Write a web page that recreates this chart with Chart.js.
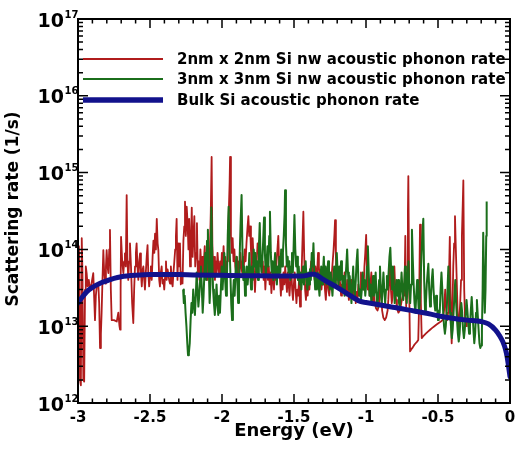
<!DOCTYPE html>
<html>
<head>
<meta charset="utf-8">
<title>Acoustic phonon scattering rate</title>
<script src="https://cdn.jsdelivr.net/npm/chart.js@4.4.1/dist/chart.umd.min.js"></script>
<style>
  html, body { margin: 0; padding: 0; background: #fff; }
  #wrap { width: 515px; height: 453px; }
</style>
</head>
<body>
<div id="wrap"><canvas id="rateChart" width="515" height="453"></canvas></div>
<script>
// axis labels and tick values
const xTitle = 'Energy (eV)';
const yTitle = 'Scattering rate (1/s)';
const energyTicks = [-3, -2.5, -2, -1.5, -1, -0.5, 0];
const rateDecades = [12, 13, 14, 15, 16, 17];

const seriesNames = [
  '2nm x 2nm Si nw acoustic phonon rate',
  '3nm x 3nm Si nw acoustic phonon rate',
  'Bulk Si acoustic phonon rate'
];
const seriesColors = ['#b01c1c', '#1b6e1b', '#12128c'];
const seriesWidths = [1.8, 2, 5];

// 2nm x 2nm nanowire (energy in eV, rate in 1/s)
const nw2Energy = [
  -3.000, -2.994, -2.990, -2.986, -2.980, -2.977, -2.974, -2.969, -2.963, -2.957,
  -2.951, -2.946, -2.940, -2.933, -2.925, -2.917, -2.906, -2.894, -2.882, -2.876,
  -2.870, -2.859, -2.853, -2.847, -2.841, -2.836, -2.830, -2.824, -2.818, -2.812,
  -2.806, -2.801, -2.795, -2.789, -2.783, -2.778, -2.772, -2.766, -2.750, -2.731,
  -2.720, -2.712, -2.708, -2.704, -2.701, -2.693, -2.685, -2.679, -2.674, -2.668,
  -2.662, -2.657, -2.651, -2.645, -2.639, -2.632, -2.624, -2.616, -2.610, -2.604,
  -2.598, -2.593, -2.587, -2.581, -2.575, -2.569, -2.563, -2.557, -2.551, -2.546,
  -2.540, -2.535, -2.529, -2.523, -2.517, -2.512, -2.506, -2.500, -2.494, -2.488,
  -2.482, -2.476, -2.470, -2.465, -2.459, -2.453, -2.447, -2.442, -2.436, -2.431,
  -2.425, -2.419, -2.413, -2.407, -2.401, -2.395, -2.389, -2.384, -2.378, -2.373,
  -2.367, -2.361, -2.355, -2.349, -2.343, -2.337, -2.331, -2.325, -2.320, -2.315,
  -2.309, -2.303, -2.298, -2.292, -2.286, -2.280, -2.274, -2.268, -2.262, -2.257,
  -2.251, -2.245, -2.239, -2.233, -2.228, -2.222, -2.216, -2.210, -2.204, -2.198,
  -2.192, -2.186, -2.180, -2.174, -2.168, -2.162, -2.156, -2.150, -2.144, -2.138,
  -2.132, -2.126, -2.120, -2.114, -2.108, -2.102, -2.096, -2.090, -2.084, -2.078,
  -2.072, -2.067, -2.061, -2.055, -2.049, -2.043, -2.037, -2.031, -2.025, -2.019,
  -2.013, -2.007, -2.001, -1.995, -1.989, -1.983, -1.977, -1.971, -1.965, -1.959,
  -1.953, -1.947, -1.944, -1.938, -1.932, -1.926, -1.920, -1.914, -1.908, -1.902,
  -1.896, -1.890, -1.884, -1.878, -1.872, -1.866, -1.860, -1.854, -1.848, -1.842,
  -1.836, -1.830, -1.824, -1.817, -1.811, -1.805, -1.799, -1.793, -1.787, -1.781,
  -1.775, -1.771, -1.765, -1.759, -1.753, -1.747, -1.741, -1.735, -1.729, -1.723,
  -1.717, -1.711, -1.705, -1.699, -1.693, -1.687, -1.681, -1.675, -1.669, -1.663,
  -1.657, -1.651, -1.645, -1.639, -1.633, -1.627, -1.621, -1.615, -1.609, -1.603,
  -1.597, -1.591, -1.585, -1.579, -1.573, -1.567, -1.561, -1.555, -1.549, -1.543,
  -1.537, -1.531, -1.525, -1.519, -1.513, -1.507, -1.501, -1.495, -1.489, -1.483,
  -1.477, -1.471, -1.465, -1.458, -1.452, -1.446, -1.440, -1.435, -1.429, -1.423,
  -1.417, -1.411, -1.405, -1.399, -1.393, -1.387, -1.381, -1.375, -1.369, -1.363,
  -1.357, -1.351, -1.345, -1.339, -1.333, -1.327, -1.321, -1.315, -1.309, -1.303,
  -1.297, -1.291, -1.285, -1.279, -1.273, -1.267, -1.261, -1.255, -1.249, -1.243,
  -1.237, -1.231, -1.225, -1.219, -1.215, -1.209, -1.203, -1.197, -1.191, -1.185,
  -1.179, -1.173, -1.167, -1.161, -1.155, -1.149, -1.143, -1.137, -1.131, -1.125,
  -1.119, -1.113, -1.107, -1.101, -1.095, -1.089, -1.083, -1.077, -1.071, -1.065,
  -1.059, -1.053, -1.047, -1.041, -1.035, -1.029, -1.023, -1.017, -1.011, -1.005,
  -0.999, -0.993, -0.987, -0.981, -0.975, -0.969, -0.963, -0.957, -0.951, -0.945,
  -0.939, -0.930, -0.920, -0.912, -0.906, -0.900, -0.894, -0.888, -0.880, -0.870,
  -0.860, -0.850, -0.845, -0.839, -0.833, -0.827, -0.821, -0.815, -0.809, -0.803,
  -0.797, -0.791, -0.785, -0.775, -0.765, -0.755, -0.745, -0.739, -0.733, -0.727,
  -0.721, -0.715, -0.709, -0.706, -0.700, -0.694, -0.685, -0.675, -0.665, -0.655,
  -0.645, -0.637, -0.631, -0.625, -0.619, -0.613, -0.600, -0.585, -0.570, -0.555,
  -0.540, -0.525, -0.510, -0.495, -0.480, -0.468, -0.458, -0.450, -0.443, -0.436,
  -0.430, -0.424, -0.418, -0.413, -0.408, -0.405, -0.400, -0.394, -0.388, -0.382,
  -0.376, -0.370, -0.364, -0.358, -0.352, -0.346, -0.340, -0.334, -0.328, -0.324,
  -0.318, -0.312, -0.305, -0.300
];
const nw2Rate = [
  4.0e13, 1.1e14, 6.0e13, 2.0e12, 1.7e12, 2.0e13, 1.4e14, 5.0e13, 2.0e12, 1.9e12,
  3.0e13, 6.0e13, 4.9e13, 3.3e13, 4.0e13, 3.0e13, 3.6e13, 4.9e13, 1.2e13, 2.5e13,
  3.3e13, 3.6e13, 2.0e13, 5.2e12, 8.0e12, 1.5e13, 4.0e13, 9.8e13, 5.0e13, 3.6e13,
  6.0e13, 9.8e13, 6.0e13, 4.9e13, 1.0e14, 1.8e14, 3.0e13, 1.2e13, 1.2e13, 1.15e13,
  1.5e13, 1.0e13, 9.0e12, 3.0e13, 1.46e14, 7.0e13, 4.9e13, 7.0e13, 8.9e13, 6.0e13,
  5.1e14, 8.0e13, 4.0e13, 7.0e13, 1.2e14, 6.0e13, 2.0e13, 1.1e13, 3.0e13, 6.0e13,
  9.0e13, 1.2e14, 6.0e13, 4.0e13, 7.0e13, 8.9e13, 5.0e13, 3.3e13, 5.5e13, 6.0e13,
  4.0e13, 3.0e13, 5.0e13, 8.0e13, 1.14e14, 5.0e13, 3.3e13, 4.5e13, 6.0e13, 4.0e13,
  8.0e13, 1.3e14, 9.0e13, 1.6e14, 1.0e14, 2.5e14, 1.2e14, 9.8e13, 4.0e13, 3.3e13,
  5.0e13, 6.0e13, 3.6e13, 4.0e13, 3.0e13, 4.5e13, 7.0e13, 4.0e13, 5.5e13, 4.9e13,
  4.0e13, 3.6e13, 6.0e13, 4.0e13, 3.3e13, 5.0e13, 7.0e13, 1.0e14, 1.5e14, 2.5e14,
  4.0e13, 1.2e14, 6.0e13, 1.2e14, 3.5e13, 5.0e13, 3.6e13, 1.3e14, 2.0e14, 4.2e14,
  1.5e14, 3.6e14, 2.2e14, 1.0e14, 2.5e14, 6.0e13, 1.2e14, 3.5e14, 8.0e13, 1.5e14,
  2.7e14, 6.0e13, 9.0e13, 2.2e14, 5.0e13, 7.0e13, 4.0e13, 1.0e14, 6.0e13, 8.0e13,
  4.5e13, 7.0e13, 1.1e14, 5.0e13, 6.5e13, 4.0e13, 9.0e13, 6.0e13, 1.0e14, 3.0e14,
  1.6e15, 1.2e14, 5.0e13, 8.0e13, 4.0e13, 7.0e13, 5.0e13, 9.0e13, 6.0e13, 4.5e13,
  7.0e13, 5.0e13, 9.0e13, 6.0e13, 1.1e14, 5.5e13, 8.0e13, 4.0e13, 7.0e13, 1.2e14,
  3.0e14, 7.5e14, 1.6e15, 1.5e14, 9.0e13, 1.4e14, 7.0e13, 1.0e14, 6.0e13, 5.0e13,
  8.0e13, 4.5e13, 7.0e13, 5.0e13, 9.0e13, 6.0e13, 5.0e13, 8.0e13, 6.0e13, 1.0e14,
  7.0e13, 1.2e14, 1.8e14, 2.7e14, 1.5e14, 2.0e14, 1.0e14, 6.0e13, 1.4e14, 8.0e13,
  4.0e13, 2.8e13, 5.0e13, 7.0e13, 1.2e14, 9.0e13, 1.3e14, 6.0e13, 8.0e13, 5.0e13,
  7.0e13, 4.0e13, 6.0e13, 3.0e13, 5.0e13, 7.0e13, 4.0e13, 6.0e13, 3.5e13, 5.0e13,
  2.7e13, 4.0e13, 6.5e13, 3.0e13, 5.0e13, 4.0e13, 7.0e13, 1.0e14, 1.5e14, 6.0e13,
  4.0e13, 2.5e13, 4.5e13, 3.0e13, 5.0e13, 3.5e13, 6.0e13, 4.0e13, 2.8e13, 5.0e13,
  3.5e13, 2.5e13, 4.0e13, 6.0e13, 3.0e13, 2.2e13, 3.5e13, 5.0e13, 3.0e13, 2.0e13,
  3.0e13, 2.5e13, 4.0e13, 1.8e13, 3.0e13, 6.0e13, 1.5e14, 3.1e14, 8.0e13, 3.0e13,
  2.2e13, 3.5e13, 2.5e13, 4.0e13, 3.0e13, 5.0e13, 7.0e13, 5.0e13, 9.0e13, 5.5e13,
  4.0e13, 6.0e13, 3.5e13, 5.0e13, 9.0e13, 6.0e13, 4.0e13, 5.0e13, 3.0e13, 4.5e13,
  3.5e13, 5.0e13, 3.0e13, 2.2e13, 3.5e13, 4.5e13, 3.0e13, 2.5e13, 3.5e13, 4.0e13,
  5.0e13, 7.0e13, 1.0e14, 1.6e14, 2.4e14, 8.0e13, 4.0e13, 6.0e13, 3.0e13, 4.5e13,
  3.5e13, 2.5e13, 3.5e13, 2.8e13, 3.5e13, 5.0e13, 3.0e13, 2.5e13, 4.0e13, 3.0e13,
  2.2e13, 2.5e13, 3.0e13, 4.0e13, 2.5e13, 3.5e13, 2.2e13, 3.0e13, 2.0e13, 2.8e13,
  2.3e13, 3.5e13, 2.5e13, 3.0e13, 5.0e13, 3.0e13, 4.5e13, 3.0e13, 6.0e13, 9.0e13,
  1.55e14, 5.0e13, 3.0e13, 4.0e13, 2.5e13, 3.5e13, 5.0e13, 3.0e13, 2.0e13, 2.5e13,
  2.0e13, 1.7e13, 1.6e13, 1.8e13, 2.5e13, 3.5e13, 2.5e13, 1.6e13, 1.3e13, 1.2e13,
  1.3e13, 1.6e13, 2.2e13, 4.0e13, 6.0e13, 3.0e13, 2.0e13, 2.5e13, 4.0e13, 6.0e13,
  3.0e13, 2.2e13, 1.7e13, 1.5e13, 1.6e13, 2.0e13, 2.5e13, 3.5e13, 2.5e13, 1.5e14,
  1.8e13, 5.0e13, 3.0e14, 9.0e14, 3.0e13, 4.7e12, 5.0e12, 5.3e12, 5.7e12, 6.0e12,
  6.3e12, 6.6e12, 2.0e13, 2.1e14, 2.0e13, 7.0e12, 7.5e12, 8.0e12, 8.5e12, 9.0e12,
  9.5e12, 1.0e13, 1.05e13, 1.1e13, 1.15e13, 1.2e13, 1.6e13, 3.0e13, 1.6e13, 1.2e13,
  1.5e13, 4.0e13, 1.46e14, 3.0e13, 1.0e13, 6.0e12, 1.5e13, 6.0e13, 1.2e14, 2.7e14,
  1.0e14, 4.0e13, 1.6e13, 9.0e12, 1.2e13, 2.0e13, 4.0e13, 1.5e14, 4.0e14, 7.9e14,
  3.0e13, 1.2e13, 1.0e13, 1.3e13
];

// 3nm x 3nm nanowire
const nw3Energy = [
  -2.270, -2.265, -2.259, -2.253, -2.247, -2.241, -2.236, -2.230, -2.224, -2.218,
  -2.212, -2.206, -2.200, -2.194, -2.188, -2.182, -2.176, -2.170, -2.164, -2.158,
  -2.152, -2.146, -2.140, -2.134, -2.128, -2.122, -2.116, -2.110, -2.104, -2.098,
  -2.092, -2.086, -2.080, -2.074, -2.068, -2.062, -2.056, -2.050, -2.044, -2.038,
  -2.032, -2.026, -2.020, -2.014, -2.008, -2.002, -1.996, -1.990, -1.984, -1.978,
  -1.972, -1.966, -1.960, -1.954, -1.948, -1.942, -1.936, -1.930, -1.924, -1.918,
  -1.912, -1.906, -1.900, -1.894, -1.888, -1.882, -1.876, -1.870, -1.864, -1.858,
  -1.852, -1.846, -1.840, -1.834, -1.828, -1.822, -1.816, -1.810, -1.804, -1.798,
  -1.792, -1.786, -1.780, -1.774, -1.768, -1.762, -1.756, -1.750, -1.744, -1.738,
  -1.732, -1.726, -1.720, -1.714, -1.708, -1.702, -1.696, -1.690, -1.684, -1.678,
  -1.672, -1.667, -1.661, -1.655, -1.649, -1.643, -1.637, -1.631, -1.625, -1.619,
  -1.613, -1.607, -1.601, -1.595, -1.589, -1.583, -1.577, -1.571, -1.565, -1.562,
  -1.556, -1.550, -1.544, -1.538, -1.532, -1.526, -1.520, -1.514, -1.508, -1.503,
  -1.497, -1.491, -1.485, -1.479, -1.473, -1.467, -1.461, -1.455, -1.449, -1.443,
  -1.437, -1.431, -1.425, -1.419, -1.413, -1.407, -1.401, -1.395, -1.389, -1.383,
  -1.377, -1.371, -1.365, -1.359, -1.353, -1.347, -1.341, -1.335, -1.329, -1.323,
  -1.317, -1.311, -1.305, -1.299, -1.293, -1.287, -1.281, -1.275, -1.269, -1.263,
  -1.257, -1.251, -1.245, -1.239, -1.233, -1.227, -1.221, -1.215, -1.209, -1.203,
  -1.197, -1.191, -1.185, -1.179, -1.173, -1.167, -1.161, -1.155, -1.149, -1.143,
  -1.137, -1.131, -1.125, -1.119, -1.113, -1.107, -1.101, -1.095, -1.089, -1.083,
  -1.077, -1.071, -1.065, -1.059, -1.053, -1.047, -1.041, -1.035, -1.029, -1.023,
  -1.017, -1.011, -1.005, -0.999, -0.993, -0.987, -0.981, -0.975, -0.969, -0.963,
  -0.957, -0.951, -0.945, -0.939, -0.933, -0.927, -0.921, -0.915, -0.909, -0.903,
  -0.897, -0.891, -0.885, -0.879, -0.873, -0.867, -0.861, -0.855, -0.849, -0.843,
  -0.837, -0.831, -0.825, -0.819, -0.813, -0.807, -0.801, -0.795, -0.789, -0.783,
  -0.777, -0.771, -0.765, -0.759, -0.753, -0.747, -0.741, -0.735, -0.729, -0.723,
  -0.717, -0.711, -0.705, -0.699, -0.693, -0.687, -0.681, -0.675, -0.669, -0.663,
  -0.657, -0.651, -0.645, -0.639, -0.633, -0.627, -0.621, -0.615, -0.609, -0.602,
  -0.596, -0.590, -0.584, -0.578, -0.572, -0.567, -0.561, -0.555, -0.549, -0.543,
  -0.537, -0.531, -0.525, -0.519, -0.513, -0.507, -0.500, -0.494, -0.488, -0.482,
  -0.476, -0.470, -0.464, -0.458, -0.452, -0.446, -0.440, -0.434, -0.428, -0.422,
  -0.416, -0.410, -0.404, -0.398, -0.392, -0.386, -0.380, -0.374, -0.368, -0.362,
  -0.356, -0.350, -0.344, -0.338, -0.332, -0.326, -0.320, -0.314, -0.308, -0.302,
  -0.296, -0.290, -0.284, -0.278, -0.272, -0.266, -0.260, -0.254, -0.248, -0.242,
  -0.236, -0.230, -0.224, -0.218, -0.212, -0.206, -0.200, -0.195, -0.190, -0.186,
  -0.180, -0.175, -0.170, -0.165, -0.162
];
const nw3Rate = [
  3.0e13, 2.0e13, 2.5e13, 1.5e13, 1.0e13, 6.0e12, 4.2e12, 4.5e12, 6.0e12, 1.2e13,
  2.0e13, 1.5e13, 3.0e13, 2.0e13, 1.4e13, 2.5e13, 5.0e13, 3.0e13, 1.8e13, 2.5e13,
  4.0e13, 6.0e13, 3.0e13, 1.5e13, 2.5e13, 5.0e13, 9.0e13, 4.0e13, 1.3e14, 1.8e14,
  6.0e13, 2.0e13, 3.5e13, 3.5e14, 8.0e13, 3.0e13, 2.0e13, 1.4e13, 2.0e13, 3.5e13,
  2.0e13, 1.4e13, 2.5e13, 1.5e13, 3.0e13, 6.0e13, 3.0e13, 5.0e13, 9.0e13, 4.0e13,
  2.5e13, 4.0e13, 1.5e14, 3.6e14, 1.2e14, 5.0e13, 2.0e13, 1.2e13, 2.5e13, 4.0e13,
  2.5e13, 5.0e13, 8.0e13, 4.0e13, 2.0e13, 3.5e13, 1.0e14, 2.5e14, 5.1e14, 1.0e14,
  4.0e13, 6.0e13, 2.5e13, 4.0e13, 6.0e13, 3.5e13, 5.0e13, 9.0e13, 5.0e13, 3.0e13,
  6.0e13, 4.0e13, 1.0e14, 6.0e13, 9.0e13, 5.0e13, 7.0e13, 4.0e13, 1.0e14, 2.2e14,
  8.0e13, 5.0e13, 7.0e13, 1.3e14, 2.6e14, 9.0e13, 4.5e13, 7.0e13, 1.1e14, 6.0e13,
  1.5e14, 3.1e14, 9.0e13, 5.0e13, 7.0e13, 4.0e13, 6.0e13, 9.0e13, 5.0e13, 3.5e13,
  6.0e13, 4.5e13, 8.0e13, 5.0e13, 1.0e14, 6.0e13, 9.0e13, 1.5e14, 3.0e14, 5.9e14,
  1.2e14, 6.0e13, 8.0e13, 5.0e13, 7.0e13, 4.0e13, 6.0e13, 9.0e13, 5.0e13, 1.0e14,
  2.8e14, 1.0e14, 6.0e13, 8.0e13, 4.0e13, 6.0e13, 3.5e13, 5.0e13, 3.0e13, 4.5e13,
  6.0e13, 3.5e13, 5.0e13, 7.0e13, 4.0e13, 3.0e13, 5.0e13, 3.5e13, 5.5e13, 4.0e13,
  9.0e13, 6.0e13, 1.2e14, 5.0e13, 3.0e13, 4.5e13, 3.0e13, 5.0e13, 3.5e13, 2.5e13,
  4.0e13, 6.0e13, 3.5e13, 5.0e13, 8.0e13, 4.0e13, 6.0e13, 3.5e13, 5.0e13, 7.0e13,
  4.0e13, 3.0e13, 5.0e13, 3.5e13, 2.5e13, 4.0e13, 6.0e13, 3.5e13, 5.0e13, 9.0e13,
  5.0e13, 3.5e13, 6.0e13, 4.0e13, 7.0e13, 4.5e13, 3.0e13, 4.5e13, 2.5e13, 4.0e13,
  6.0e13, 1.0e14, 5.0e13, 3.0e13, 4.5e13, 3.0e13, 2.0e13, 3.5e13, 6.0e13, 3.0e13,
  2.5e13, 4.0e13, 7.0e13, 1.0e14, 4.0e13, 2.5e13, 3.0e13, 2.2e13, 3.0e13, 5.0e13,
  3.0e13, 4.0e13, 2.5e13, 3.5e13, 6.0e13, 1.1e14, 5.0e13, 2.5e13, 3.5e13, 2.0e13,
  3.0e13, 4.5e13, 2.5e13, 3.0e13, 5.0e13, 2.5e13, 1.8e13, 2.5e13, 4.0e13, 6.0e13,
  3.0e13, 2.0e13, 3.0e13, 5.0e13, 3.0e13, 2.0e13, 3.0e13, 4.5e13, 3.0e13, 5.0e13,
  8.0e13, 1.05e14, 5.0e13, 3.0e13, 6.0e13, 3.5e13, 2.0e13, 2.8e13, 4.0e13, 2.5e13,
  4.0e13, 2.0e13, 1.8e13, 3.0e13, 5.0e13, 3.0e13, 2.2e13, 3.5e13, 6.0e13, 3.0e13,
  2.0e13, 4.0e13, 7.0e13, 3.0e13, 2.0e13, 3.5e13, 1.8e14, 7.4e13, 3.5e13, 2.0e13,
  1.5e13, 2.5e13, 4.0e13, 2.5e13, 1.5e13, 2.0e13, 4.0e13, 8.0e13, 1.5e14, 2.5e14,
  4.0e13, 1.6e13, 2.0e13, 3.5e13, 5.0e13, 6.5e13, 3.0e13, 1.8e13, 2.5e13, 4.0e13,
  5.5e13, 3.0e13, 2.0e13, 1.6e13, 2.5e13, 1.8e13, 1.2e13, 1.6e13, 1.5e13, 3.0e13,
  5.0e13, 3.0e13, 1.5e13, 1.0e13, 8.0e12, 1.0e13, 1.5e13, 3.0e13, 6.0e13, 3.0e13,
  1.5e13, 1.0e13, 7.0e12, 9.0e12, 1.5e13, 2.5e13, 4.0e13, 2.0e13, 1.2e13, 8.0e12,
  6.3e12, 8.0e12, 1.3e13, 2.0e13, 1.5e13, 9.0e12, 7.0e12, 9.0e12, 1.4e13, 2.2e13,
  1.6e13, 1.1e13, 8.0e12, 1.0e13, 1.6e13, 2.4e13, 1.5e13, 9.0e12, 6.0e12, 8.0e12,
  1.5e13, 2.2e13, 1.4e13, 9.0e12, 6.0e12, 5.2e12, 5.6e12, 9.0e12, 3.0e13, 1.65e14,
  4.0e13, 1.5e13, 3.0e13, 1.5e14, 4.2e14
];

// bulk Si
const bulkEnergy = [
  -3.00, -2.97, -2.94, -2.90, -2.85, -2.80, -2.75, -2.70, -2.60, -2.50,
  -2.40, -2.30, -2.20, -2.00, -1.80, -1.60, -1.45, -1.41, -1.38, -1.36,
  -1.34, -1.30, -1.20, -1.10, -1.04, -1.00, -0.90, -0.80, -0.70, -0.60,
  -0.50, -0.40, -0.30, -0.20, -0.15, -0.10, -0.07, -0.05, -0.03, -0.02,
  -0.01, 0.00
];
const bulkRate = [
  2.0e13, 2.4e13, 2.8e13, 3.2e13, 3.6e13, 3.9e13, 4.2e13, 4.4e13, 4.6e13, 4.7e13,
  4.7e13, 4.7e13, 4.65e13, 4.6e13, 4.55e13, 4.5e13, 4.5e13, 4.6e13, 4.75e13, 4.75e13,
  4.6e13, 4.1e13, 3.2e13, 2.45e13, 2.1e13, 2.04e13, 1.89e13, 1.75e13, 1.62e13, 1.5e13,
  1.37e13, 1.27e13, 1.2e13, 1.15e13, 1.07e13, 8.9e12, 7.4e12, 6.3e12, 4.9e12, 4.0e12,
  3.0e12, 2.2e12
];

// turn two parallel arrays into {x, y} points
function toPoints(energies, rates) {
  let pts = [];
  let n = Math.min(energies.length, rates.length);
  for (let i = 0; i < n; i++) {
    pts.push({ x: energies[i], y: rates[i] });
  }
  return pts;
}

const FONT = '"DejaVu Sans", sans-serif';

// frame, inward ticks, tick labels, axis titles and the legend
const axisDecor = {
  id: 'axisDecor',
  afterDatasetsDraw(chart) {
    const ctx = chart.ctx;
    const a = chart.chartArea;
    const xs = chart.scales.x;
    const ys = chart.scales.y;
    ctx.save();
    ctx.strokeStyle = '#000';
    ctx.fillStyle = '#000';

    // x ticks, top and bottom
    ctx.lineWidth = 1.5;
    ctx.beginPath();
    for (let i = 0; i <= 30; i++) {
      let px = xs.getPixelForValue(-3 + i * 0.1);
      let len = (i % 5 === 0) ? 9 : 4.5;
      ctx.moveTo(px, a.bottom);
      ctx.lineTo(px, a.bottom - len);
      ctx.moveTo(px, a.top);
      ctx.lineTo(px, a.top + len);
    }
    // y ticks, left and right (log minors 2..9)
    for (let d = rateDecades[0]; d < rateDecades[rateDecades.length - 1]; d++) {
      for (let m = 1; m <= 9; m++) {
        let py = ys.getPixelForValue(m * Math.pow(10, d));
        let len = (m === 1) ? 10 : 5;
        ctx.moveTo(a.left, py);
        ctx.lineTo(a.left + len, py);
        ctx.moveTo(a.right, py);
        ctx.lineTo(a.right - len, py);
      }
    }
    ctx.stroke();

    // frame
    ctx.lineWidth = 2;
    ctx.strokeRect(a.left, a.top, a.right - a.left, a.bottom - a.top);

    // x tick labels
    ctx.font = 'bold 15px ' + FONT;
    ctx.textAlign = 'center';
    ctx.textBaseline = 'alphabetic';
    energyTicks.forEach(function (e) {
      ctx.fillText(String(e), xs.getPixelForValue(e), a.bottom + 19);
    });

    // y tick labels as 10 with a raised exponent
    rateDecades.forEach(function (d) {
      let py = ys.getPixelForValue(Math.pow(10, d));
      ctx.font = 'bold 19px ' + FONT;
      ctx.textAlign = 'right';
      ctx.fillText('10', 64, py + 7.5);
      ctx.font = 'bold 10px ' + FONT;
      ctx.textAlign = 'left';
      ctx.fillText(String(d), 64.5, py - 1.5);
    });

    // axis titles
    ctx.font = 'bold 18px ' + FONT;
    ctx.textAlign = 'center';
    ctx.fillText(xTitle, (a.left + a.right) / 2, a.bottom + 33);
    ctx.save();
    ctx.font = 'bold 17px ' + FONT;
    ctx.translate(14, 209);
    ctx.rotate(-Math.PI / 2);
    ctx.textBaseline = 'middle';
    ctx.fillText(yTitle, 0, 0);
    ctx.restore();

    // legend inside the plot
    let legendY = [59, 79, 100];
    ctx.font = 'bold 15px ' + FONT;
    ctx.textAlign = 'left';
    ctx.textBaseline = 'middle';
    for (let i = 0; i < seriesNames.length; i++) {
      ctx.strokeStyle = seriesColors[i];
      ctx.lineWidth = (i === 2) ? 5.5 : 2;
      ctx.beginPath();
      ctx.moveTo(83, legendY[i]);
      ctx.lineTo(163, legendY[i]);
      ctx.stroke();
      ctx.fillStyle = '#000';
      ctx.fillText(seriesNames[i], 177, legendY[i] + 1);
    }
    ctx.restore();
  }
};

const ctx = document.getElementById('rateChart').getContext('2d');
const rateChart = new Chart(ctx, {
  type: 'line',
  data: {
    datasets: [
      {
        label: seriesNames[0],
        data: toPoints(nw2Energy, nw2Rate),
        borderColor: seriesColors[0],
        borderWidth: seriesWidths[0],
        borderJoinStyle: 'round',
        pointRadius: 0,
        tension: 0,
        order: 3
      },
      {
        label: seriesNames[1],
        data: toPoints(nw3Energy, nw3Rate),
        borderColor: seriesColors[1],
        borderWidth: seriesWidths[1],
        borderJoinStyle: 'round',
        pointRadius: 0,
        tension: 0,
        order: 2
      },
      {
        label: seriesNames[2],
        data: toPoints(bulkEnergy, bulkRate),
        borderColor: seriesColors[2],
        borderWidth: seriesWidths[2],
        borderJoinStyle: 'round',
        borderCapStyle: 'round',
        cubicInterpolationMode: 'monotone',
        pointRadius: 0,
        order: 1
      }
    ]
  },
  options: {
    responsive: false,
    animation: false,
    devicePixelRatio: 1,
    layout: { padding: { left: 78, right: 5, top: 19, bottom: 50 } },
    scales: {
      x: { type: 'linear', display: false, min: -3, max: 0 },
      y: { type: 'logarithmic', display: false, min: 1e12, max: 1e17 }
    },
    plugins: {
      legend: { display: false },
      tooltip: { enabled: false }
    }
  },
  plugins: [axisDecor]
});
</script>
</body>
</html>
